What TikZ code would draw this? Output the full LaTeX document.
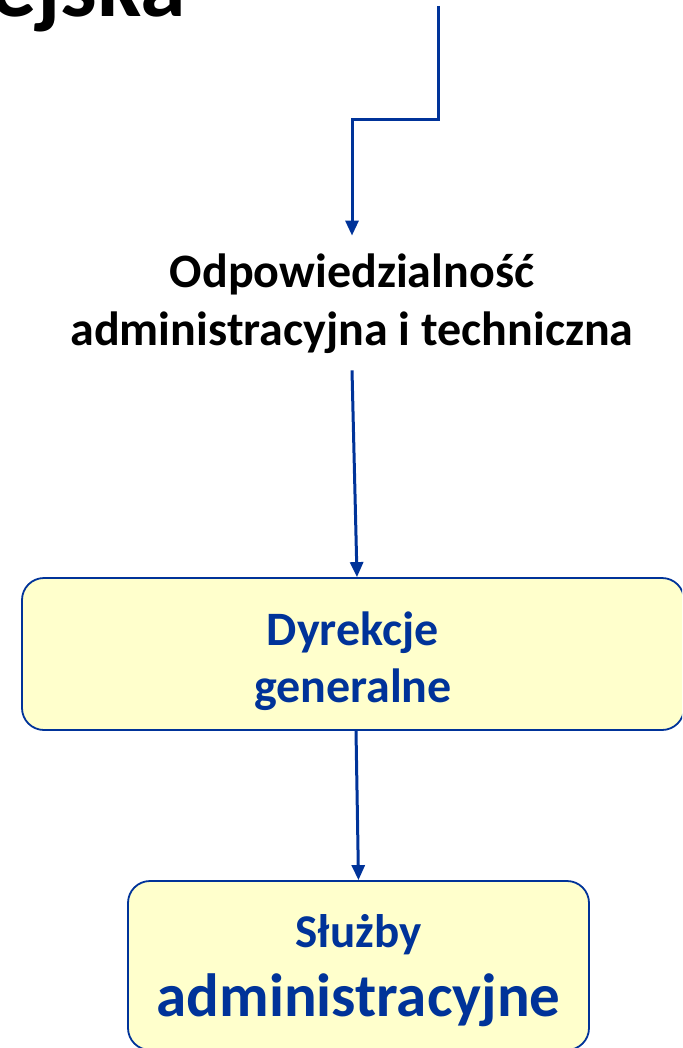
\documentclass[tikz,border=0pt]{standalone}
\usepackage{fontspec}
\setmainfont{Carlito}
\usetikzlibrary{arrows.meta}
\definecolor{ueblue}{HTML}{003399}
\definecolor{uefill}{HTML}{FFFFCC}
\begin{document}
\begin{tikzpicture}[x=1pt,y=-1pt,
 conn/.style={draw=ueblue,line width=3pt,-{Triangle[width=13pt,length=15pt]}},
 box/.style={draw=ueblue,line width=1.8pt,fill=uefill,rounded corners=22pt,align=center,text=ueblue},
 lbl/.style={align=center,font=\bfseries\fontsize{48}{58}\selectfont}
]
\useasboundingbox (0,0) rectangle (682,1048);
\clip (0,0) rectangle (682,1048);
\node[anchor=base east,inner sep=0pt,font=\bfseries\fontsize{92}{100}\selectfont] (title) at (186,17) {ejska};
\coordinate (top) at (438,6);
\node[lbl] (resp) at (352,304) {Odpowiedzialność\\administracyjna i techniczna};
\node[box,minimum width=662pt,minimum height=152pt,font=\bfseries\fontsize{48}{57}\selectfont] (dg) at (353,654) {\rule{0pt}{48pt}Dyrekcje\\generalne};
\node[box,minimum width=461pt,minimum height=169pt,font=\bfseries] (sa) at (358.5,965.5) {\rule{0pt}{44pt}{\fontsize{47}{57}\selectfont Służby}\\[18pt]{\fontsize{61}{66}\selectfont administracyjne}};
\draw[conn,shorten >=15pt] (top) -- (438,120) -| (resp.north);
\draw[conn] ([yshift=-13pt]resp.south) -- ([xshift=4pt]dg.north);
\draw[conn] ([xshift=3pt]dg.south) -- (sa.north);
\end{tikzpicture}
\end{document}
